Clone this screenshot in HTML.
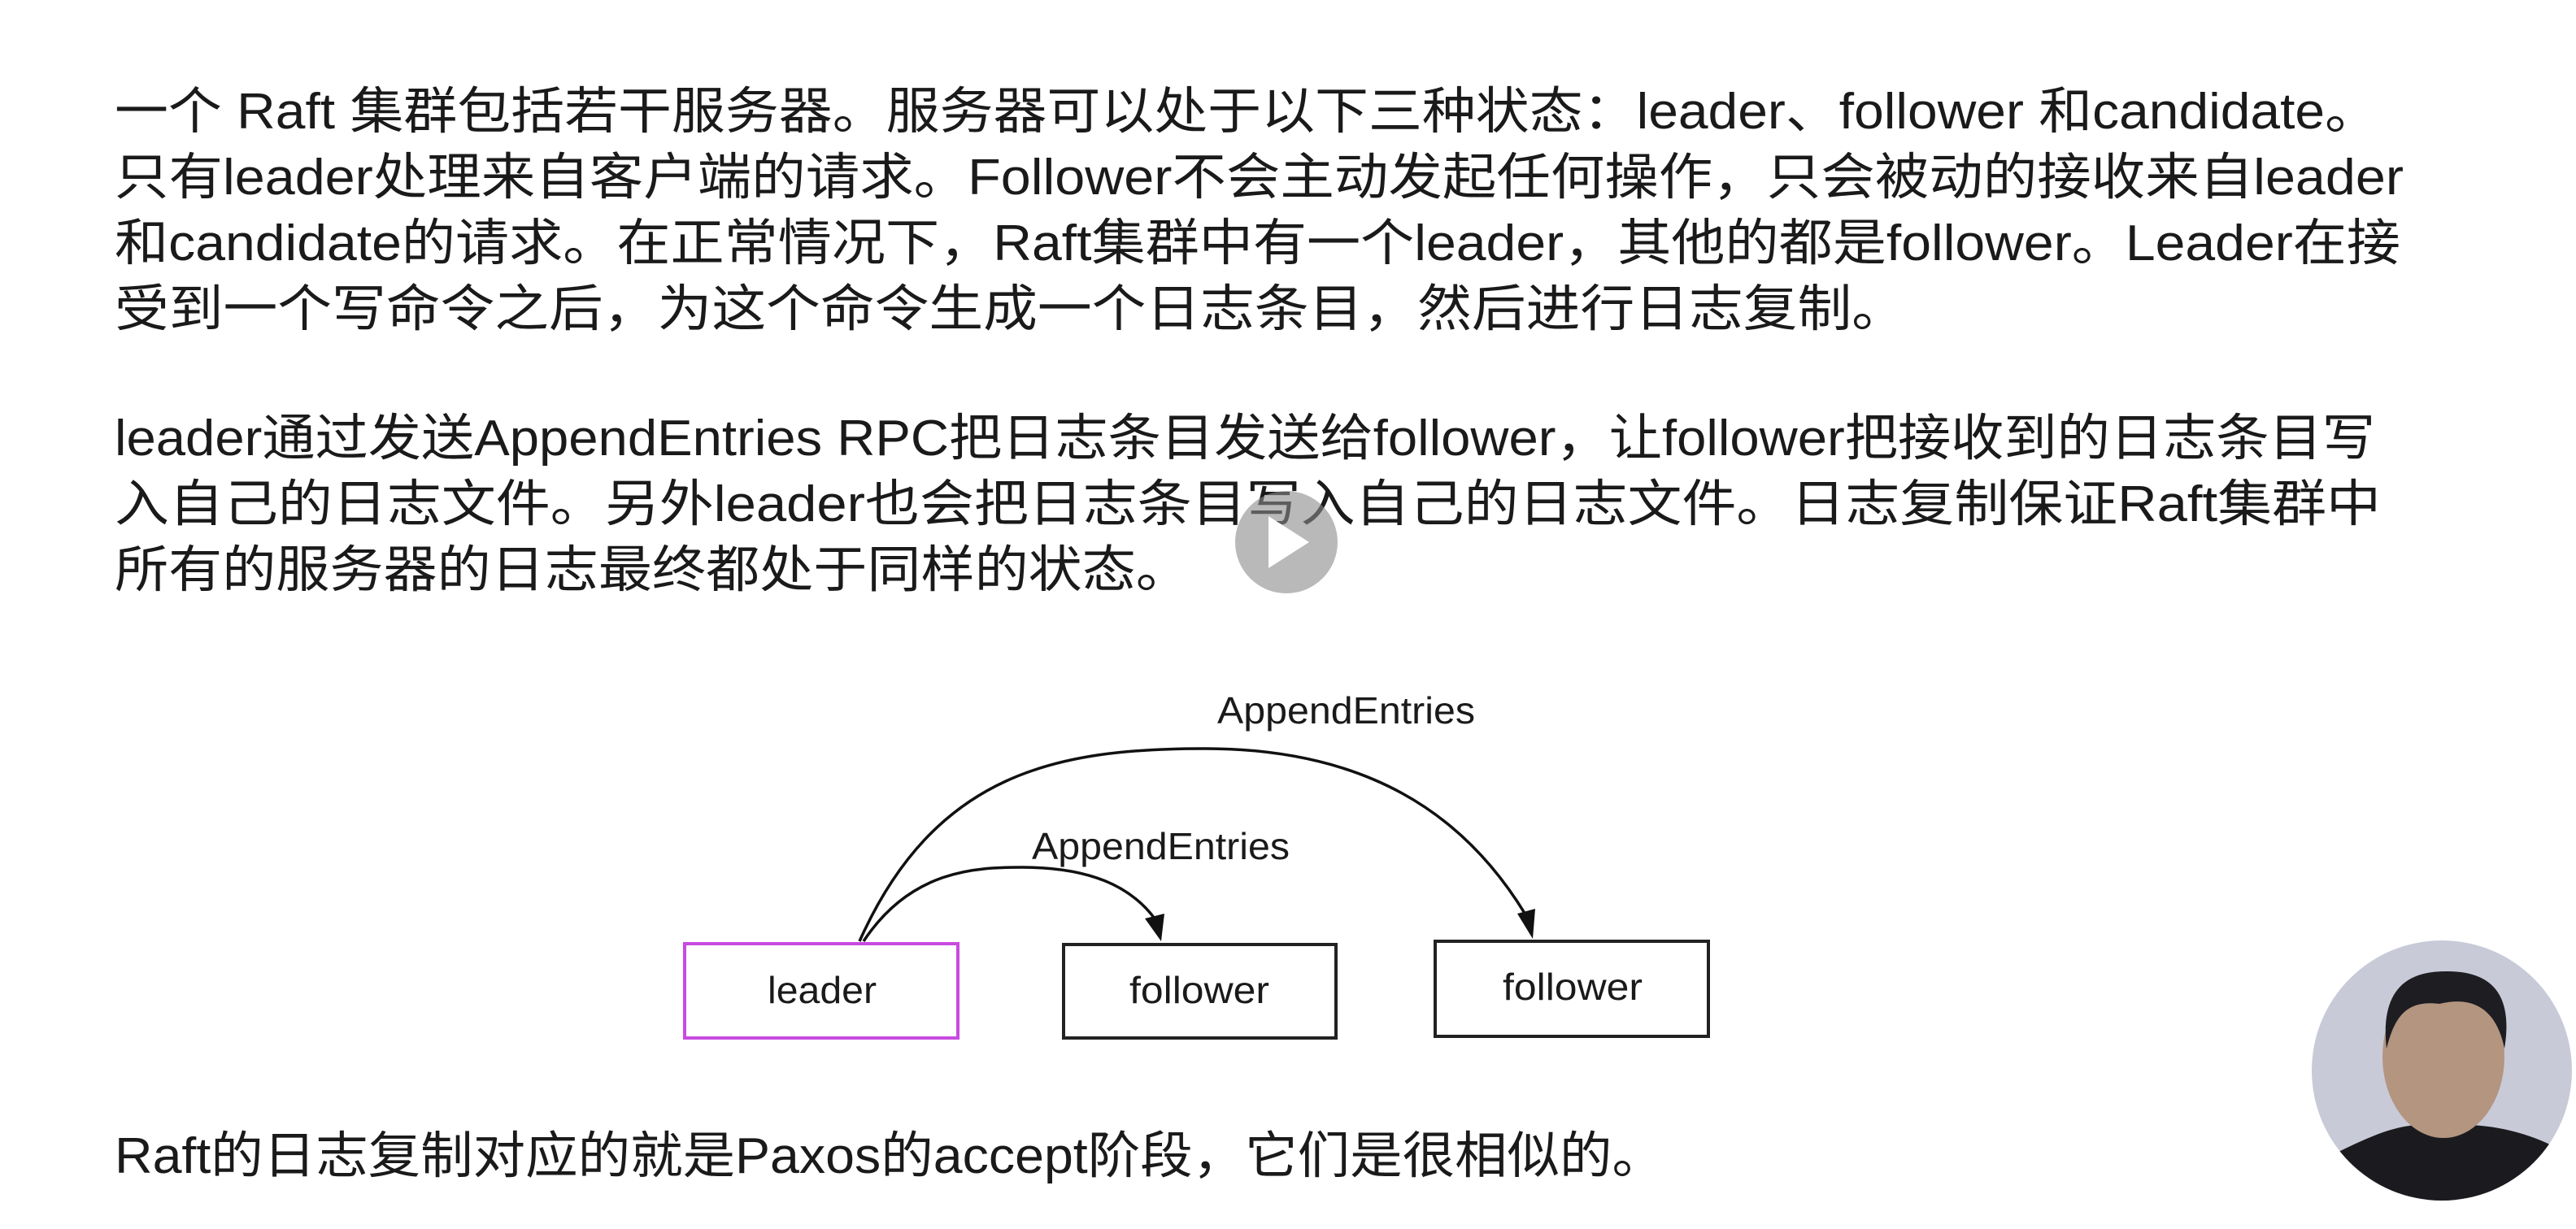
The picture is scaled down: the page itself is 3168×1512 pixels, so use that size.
<!DOCTYPE html>
<html><head><meta charset="utf-8"><style>
html,body{margin:0;padding:0;background:#fff;}
svg{display:block;}
text{font-family:"Liberation Sans","Noto Sans CJK SC",sans-serif;fill:#1a1a1a;}
</style></head><body>
<svg width="3168" height="1512" viewBox="0 0 3168 1512" xmlns="http://www.w3.org/2000/svg">
<rect width="3168" height="1512" fill="#fff"/>
<g font-size="62">
<text x="141" y="158" textLength="2784" lengthAdjust="spacingAndGlyphs">一个 Raft 集群包括若干服务器。服务器可以处于以下三种状态：leader、follower 和candidate。</text>
<text x="141" y="239" textLength="2815" lengthAdjust="spacingAndGlyphs">只有leader处理来自客户端的请求。Follower不会主动发起任何操作，只会被动的接收来自leader</text>
<text x="141" y="320" textLength="2811" lengthAdjust="spacingAndGlyphs">和candidate的请求。在正常情况下，Raft集群中有一个leader，其他的都是follower。Leader在接</text>
<text x="141" y="401" textLength="2203" lengthAdjust="spacingAndGlyphs">受到一个写命令之后，为这个命令生成一个日志条目，然后进行日志复制。</text>
<text x="141" y="560" textLength="2780" lengthAdjust="spacingAndGlyphs">leader通过发送AppendEntries RPC把日志条目发送给follower，让follower把接收到的日志条目写</text>
<text x="141" y="641" textLength="2787" lengthAdjust="spacingAndGlyphs">入自己的日志文件。另外leader也会把日志条目写入自己的日志文件。日志复制保证Raft集群中</text>
<text x="141" y="722" textLength="1322" lengthAdjust="spacingAndGlyphs">所有的服务器的日志最终都处于同样的状态。</text>
<text x="141" y="1443" textLength="1906" lengthAdjust="spacingAndGlyphs">Raft的日志复制对应的就是Paxos的accept阶段，它们是很相似的。</text>
</g>
<!-- play button -->
<circle cx="1582" cy="667" r="63" fill="#8a8a8a" opacity="0.6"/>
<polygon points="1560,635 1560,699 1610,667" fill="#fff"/>
<!-- boxes -->
<rect x="842" y="1161" width="336" height="116" fill="none" stroke="#c84be0" stroke-width="4"/>
<rect x="1308" y="1162" width="335" height="115" fill="none" stroke="#222" stroke-width="4"/>
<rect x="1765" y="1158" width="336" height="117" fill="none" stroke="#222" stroke-width="4"/>
<g font-size="46">
<text x="944" y="1234" textLength="134" lengthAdjust="spacingAndGlyphs">leader</text>
<text x="1389" y="1234" textLength="172" lengthAdjust="spacingAndGlyphs">follower</text>
<text x="1848" y="1230" textLength="172" lengthAdjust="spacingAndGlyphs">follower</text>
<text x="1497" y="890" textLength="317" lengthAdjust="spacingAndGlyphs">AppendEntries</text>
<text x="1269" y="1057" textLength="317" lengthAdjust="spacingAndGlyphs">AppendEntries</text>
</g>
<!-- curves -->
<path d="M1057,1158 C1150,950 1300,921 1481,921 C1680,921 1800,1000 1876,1125" fill="none" stroke="#111" stroke-width="3.5"/>
<polygon points="1866,1124 1888,1118 1885,1155" fill="#111"/>
<path d="M1062,1158 C1120,1070 1200,1067 1257,1067 C1340,1067 1390,1090 1420,1130" fill="none" stroke="#111" stroke-width="3.5"/>
<polygon points="1408,1130 1432,1124 1428,1158" fill="#111"/>
<!-- avatar -->
<defs><clipPath id="c"><circle cx="3003" cy="1317" r="160"/></clipPath></defs>
<g clip-path="url(#c)">
<rect x="2840" y="1150" width="330" height="340" fill="#c9cad8"/>
<path d="M2870,1420 C2930,1390 2960,1380 3000,1385 C3050,1380 3100,1390 3140,1410 L3170,1490 L2840,1490 Z" fill="#1b1b1f"/>
<ellipse cx="3005" cy="1300" rx="75" ry="100" fill="#b39580"/>
<path d="M2935,1290 C2925,1200 2980,1195 3010,1195 C3070,1195 3090,1230 3080,1290 C3070,1240 3040,1225 3000,1235 C2960,1230 2945,1250 2935,1290 Z" fill="#1d1d22"/>
</g>
</svg>
</body></html>
